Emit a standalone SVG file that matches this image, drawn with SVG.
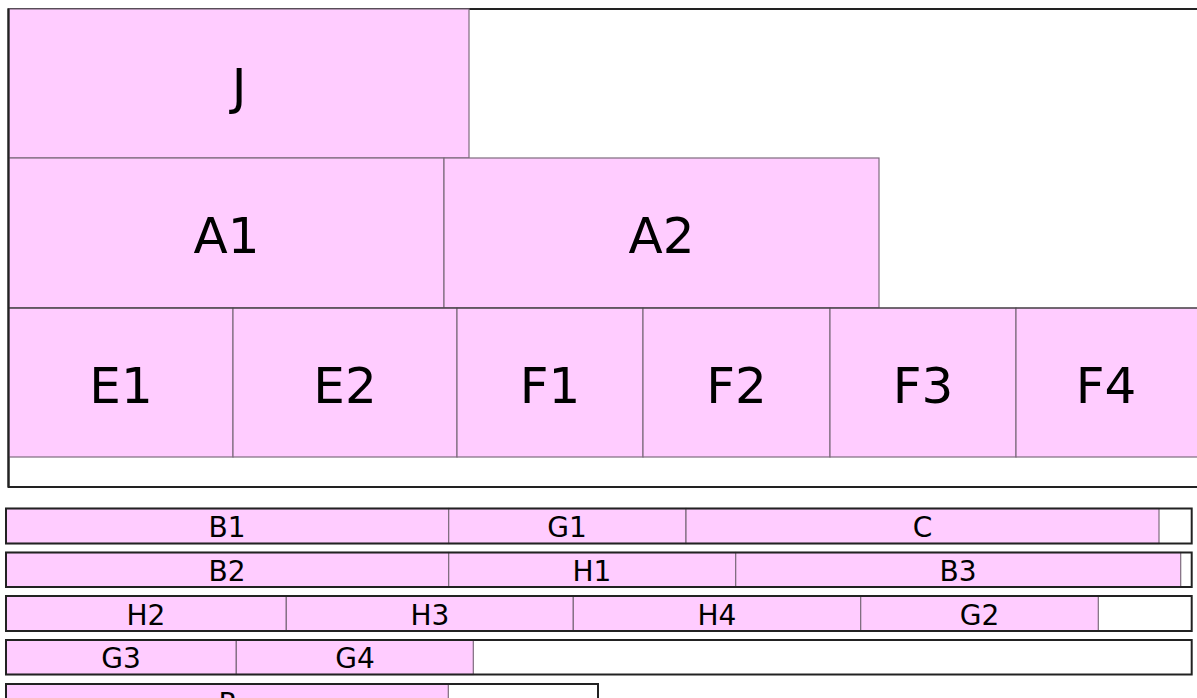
<svg xmlns="http://www.w3.org/2000/svg" width="1197" height="698" viewBox="0 0 1197 698">
<style>
.cell{fill:#FFCCFF;stroke:#7d6b7d;stroke-width:1.2}
.frame{fill:none;stroke:#222;stroke-width:2}
.big{font-family:"DejaVu Sans",Verdana,sans-serif;font-size:50px;fill:#000;text-anchor:middle}
.sm{font-family:"DejaVu Sans",Verdana,sans-serif;font-size:28px;fill:#000;text-anchor:middle}
</style>
<rect x="0" y="0" width="1197" height="698" fill="#fff"/>
<g id="container">
<rect x="8.5" y="9" width="1200" height="478" fill="#fff" stroke="#222" stroke-width="2"/>
</g>
<g id="J"><rect class="cell" x="9" y="9" width="460" height="149"/><text class="big" x="239" y="103.5">J</text></g>
<g id="A1"><rect class="cell" x="9" y="158" width="435" height="150"/><text class="big" x="226.5" y="253">A1</text></g>
<g id="A2"><rect class="cell" x="444" y="158" width="435" height="150"/><text class="big" x="661.5" y="253">A2</text></g>
<g id="E1"><rect class="cell" x="9" y="308" width="224" height="149"/><text class="big" x="121" y="402.5">E1</text></g>
<g id="E2"><rect class="cell" x="233" y="308" width="224" height="149"/><text class="big" x="345" y="402.5">E2</text></g>
<g id="F1"><rect class="cell" x="457" y="308" width="186" height="149"/><text class="big" x="550" y="402.5">F1</text></g>
<g id="F2"><rect class="cell" x="643" y="308" width="187" height="149"/><text class="big" x="736.5" y="402.5">F2</text></g>
<g id="F3"><rect class="cell" x="830" y="308" width="186" height="149"/><text class="big" x="923" y="402.5">F3</text></g>
<g id="F4"><rect class="cell" x="1016" y="308" width="190" height="149"/><text class="big" x="1106" y="402.5">F4</text></g>
<line x1="9" y1="308" x2="1197" y2="308" stroke="#333" stroke-width="1.2"/>
<line x1="8.5" y1="9" x2="8.5" y2="487" stroke="#222" stroke-width="2"/>

<g id="row1">
<g id="B1"><rect class="cell" x="6" y="508.5" width="442.7" height="35"/><text class="sm" x="227" y="537">B1</text></g>
<g id="G1"><rect class="cell" x="448.7" y="508.5" width="237.3" height="35"/><text class="sm" x="567" y="537">G1</text></g>
<g id="C"><rect class="cell" x="686" y="508.5" width="473" height="35"/><text class="sm" x="922.5" y="537">C</text></g>
<rect class="frame" x="6" y="508.5" width="1185.7" height="35"/>
</g>
<g id="row2">
<g id="B2"><rect class="cell" x="6" y="552.5" width="442.7" height="34.5"/><text class="sm" x="227" y="580.7">B2</text></g>
<g id="H1"><rect class="cell" x="448.7" y="552.5" width="287" height="34.5"/><text class="sm" x="592" y="580.7">H1</text></g>
<g id="B3"><rect class="cell" x="735.7" y="552.5" width="445" height="34.5"/><text class="sm" x="958" y="580.7">B3</text></g>
<rect class="frame" x="6" y="552.5" width="1185.7" height="34.5"/>
</g>
<g id="row3">
<g id="H2"><rect class="cell" x="6" y="596" width="280.3" height="35"/><text class="sm" x="146" y="624.5">H2</text></g>
<g id="H3"><rect class="cell" x="286.3" y="596" width="287" height="35"/><text class="sm" x="430" y="624.5">H3</text></g>
<g id="H4"><rect class="cell" x="573.3" y="596" width="287.4" height="35"/><text class="sm" x="717" y="624.5">H4</text></g>
<g id="G2"><rect class="cell" x="860.7" y="596" width="237.6" height="35"/><text class="sm" x="979.5" y="624.5">G2</text></g>
<rect class="frame" x="6" y="596" width="1185.7" height="35"/>
</g>
<g id="row4">
<g id="G3"><rect class="cell" x="6" y="640" width="230.3" height="34.5"/><text class="sm" x="121" y="668.3">G3</text></g>
<g id="G4"><rect class="cell" x="236.3" y="640" width="237" height="34.5"/><text class="sm" x="355" y="668.3">G4</text></g>
<rect class="frame" x="6" y="640" width="1185.7" height="34.5"/>
</g>
<g id="row5">
<g id="P"><rect class="cell" x="6" y="684" width="442.3" height="35"/><text class="sm" x="227" y="712.5">P</text></g>
<rect class="frame" x="6" y="684" width="592" height="35"/>
</g>
</svg>
